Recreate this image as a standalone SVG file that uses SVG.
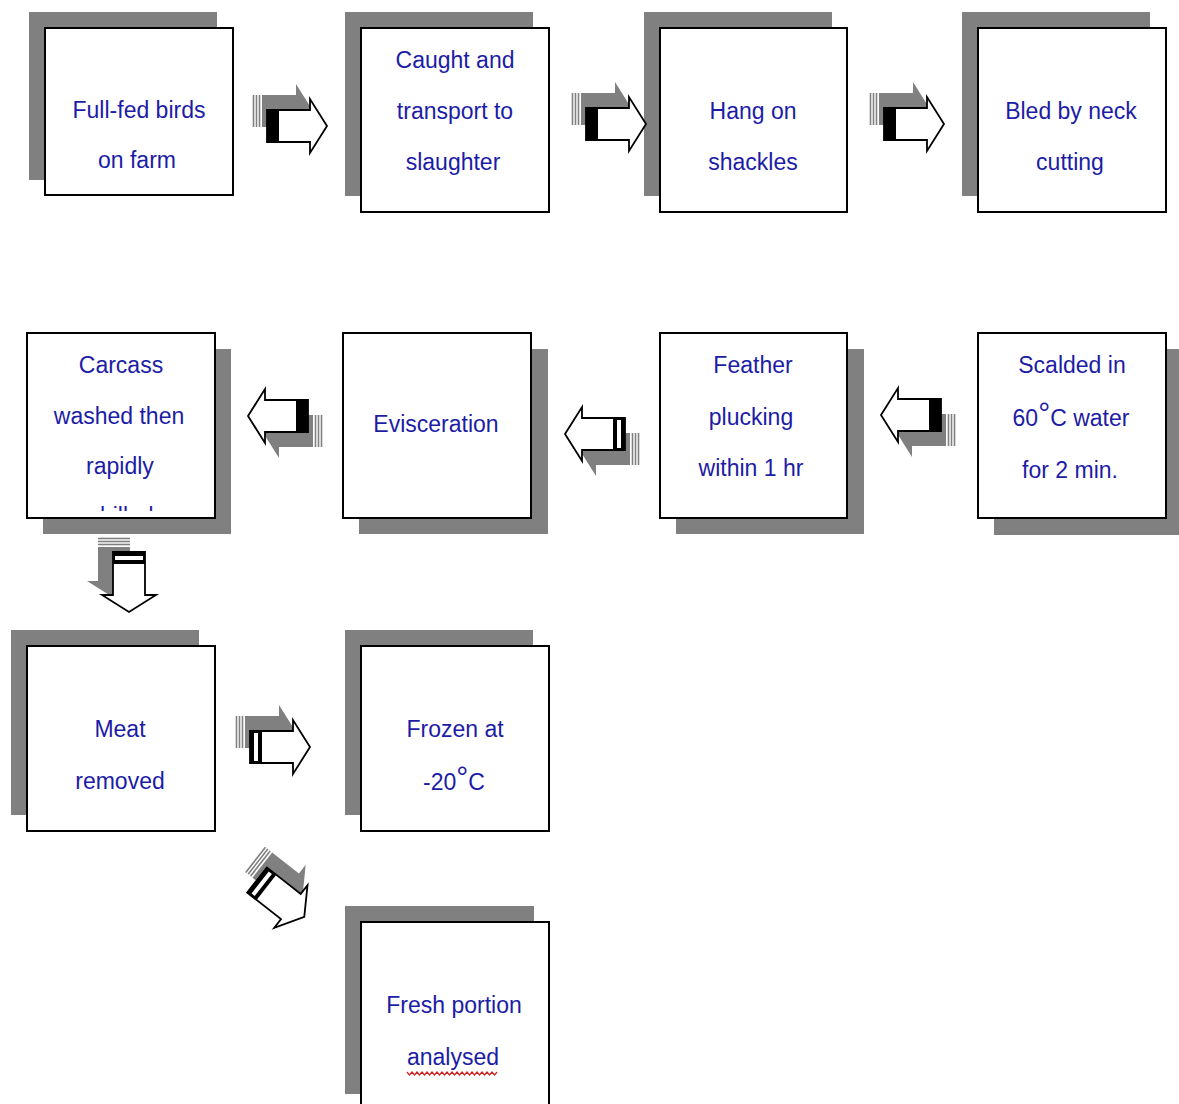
<svg xmlns="http://www.w3.org/2000/svg" xmlns:xlink="http://www.w3.org/1999/xlink" width="1179" height="1104" viewBox="0 0 1179 1104">
<style>
.sh{fill:#808080}
.bx{fill:#fff;stroke:#000;stroke-width:2}
.t{font-family:"Liberation Sans",Arial,sans-serif;font-size:23px;fill:#1c1ca6;text-anchor:middle}
.deg{font-size:30px}
</style>
<defs>
<g id="arrShadow">
<path d="M-5,-31 H29 V-42 L46,-15 L29,12 V1 H-5 Z" fill="#808080"/>
<g stroke="#808080" stroke-width="1.6">
<line x1="-13.5" y1="-31" x2="-13.5" y2="1"/>
<line x1="-10.5" y1="-31" x2="-10.5" y2="1"/>
<line x1="-7.5" y1="-31" x2="-7.5" y2="1"/>
</g>
</g>
<g id="arrA">
<use xlink:href="#arrShadow"/>
<path d="M0,-16 H43 V-27 L60,0 L43,27 V16 H0 Z" fill="#fff" stroke="#000" stroke-width="1.8"/>
<rect x="0" y="-16" width="12" height="32" fill="#000"/>
</g>
<g id="arrB">
<use xlink:href="#arrShadow"/>
<path d="M0,-16 H43 V-27 L60,0 L43,27 V16 H0 Z" fill="#fff" stroke="#000" stroke-width="1.8"/>
<rect x="0" y="-16" width="12" height="32" fill="#000"/>
<rect x="4" y="-14" width="4" height="28" fill="#fff"/>
</g>
<clipPath id="clipCarcass"><rect x="28" y="334" width="186" height="177"/></clipPath>
</defs>
<rect width="1179" height="1104" fill="#fff"/>

<g id="n1">
<rect class="sh" x="29" y="12" width="188" height="168"/>
<rect class="bx" x="45" y="28" width="188" height="167"/>
<text class="t" x="139" y="118">Full-fed birds</text>
<text class="t" x="137" y="168">on farm</text>
</g>
<g id="n2">
<rect class="sh" x="345" y="12" width="188" height="184"/>
<rect class="bx" x="361" y="28" width="188" height="184"/>
<text class="t" x="455" y="68">Caught and</text>
<text class="t" x="455" y="119">transport to</text>
<text class="t" x="453" y="170">slaughter</text>
</g>
<g id="n3">
<rect class="sh" x="644" y="12" width="188" height="184"/>
<rect class="bx" x="660" y="28" width="187" height="184"/>
<text class="t" x="753" y="119">Hang on</text>
<text class="t" x="753" y="170">shackles</text>
</g>
<g id="n4">
<rect class="sh" x="962" y="12" width="188" height="184"/>
<rect class="bx" x="978" y="28" width="188" height="184"/>
<text class="t" x="1071" y="119">Bled by neck</text>
<text class="t" x="1070" y="170">cutting</text>
</g>
<g id="n5">
<rect class="sh" x="43" y="349" width="188" height="185"/>
<rect class="bx" x="27" y="333" width="188" height="185"/>
<text class="t" x="121" y="373">Carcass</text>
<text class="t" x="119" y="424">washed then</text>
<text class="t" x="120" y="474">rapidly</text>
<text class="t" x="121" y="524" clip-path="url(#clipCarcass)">chilled</text>
</g>
<g id="n6">
<rect class="sh" x="359" y="349" width="189" height="185"/>
<rect class="bx" x="343" y="333" width="188" height="185"/>
<text class="t" x="436" y="432">Evisceration</text>
</g>
<g id="n7">
<rect class="sh" x="676" y="349" width="188" height="185"/>
<rect class="bx" x="660" y="333" width="187" height="185"/>
<text class="t" x="753" y="373">Feather</text>
<text class="t" x="751" y="425">plucking</text>
<text class="t" x="751" y="476">within 1 hr</text>
</g>
<g id="n8">
<rect class="sh" x="994" y="349" width="188" height="186"/>
<rect class="bx" x="978" y="333" width="188" height="185"/>
<text class="t" x="1072" y="373">Scalded in</text>
<text class="t" x="1071" y="426">60<tspan class="deg" dy="-3">°</tspan><tspan dy="3">C water</tspan></text>
<text class="t" x="1070" y="478">for 2 min.</text>
</g>
<g id="n9">
<rect class="sh" x="11" y="630" width="188" height="185"/>
<rect class="bx" x="27" y="646" width="188" height="185"/>
<text class="t" x="120" y="737">Meat</text>
<text class="t" x="120" y="789">removed</text>
</g>
<g id="n10">
<rect class="sh" x="345" y="630" width="188" height="185"/>
<rect class="bx" x="361" y="646" width="188" height="185"/>
<text class="t" x="455" y="737">Frozen at</text>
<text class="t" x="454" y="790">-20<tspan class="deg" dy="-3">°</tspan><tspan dy="3">C</tspan></text>
</g>
<g id="n11">
<rect class="sh" x="345" y="906" width="189" height="188"/>
<rect class="bx" x="361" y="922" width="188" height="200"/>
<text class="t" x="454" y="1013">Fresh portion</text>
<text class="t" x="453" y="1065">analysed</text>
<path d="M407,1072 l2.5,3 l2.5,-3 l2.5,3 l2.5,-3 l2.5,3 l2.5,-3 l2.5,3 l2.5,-3 l2.5,3 l2.5,-3 l2.5,3 l2.5,-3 l2.5,3 l2.5,-3 l2.5,3 l2.5,-3 l2.5,3 l2.5,-3 l2.5,3 l2.5,-3 l2.5,3 l2.5,-3 l2.5,3 l2.5,-3 l2.5,3 l2.5,-3 l2.5,3 l2.5,-3 l2.5,3 l2.5,-3 l2.5,3 l2.5,-3 l2.5,3 l2.5,-3 l2.5,3 l2.5,-3" fill="none" stroke="#d02020" stroke-width="1.2"/>
</g>

<g id="connectors">
<use xlink:href="#arrA" transform="translate(267,126)"/>
<use xlink:href="#arrA" transform="translate(586,124)"/>
<use xlink:href="#arrA" transform="translate(884,124)"/>
<use xlink:href="#arrA" transform="translate(308,416) rotate(180)"/>
<use xlink:href="#arrB" transform="translate(625,434) rotate(180)"/>
<use xlink:href="#arrA" transform="translate(941,415) rotate(180)"/>
<use xlink:href="#arrB" transform="translate(129,552) rotate(90) scale(1,-1)"/>
<use xlink:href="#arrB" transform="translate(250,747)"/>
<use xlink:href="#arrB" transform="translate(257,880) rotate(38)"/>
</g>
</svg>
